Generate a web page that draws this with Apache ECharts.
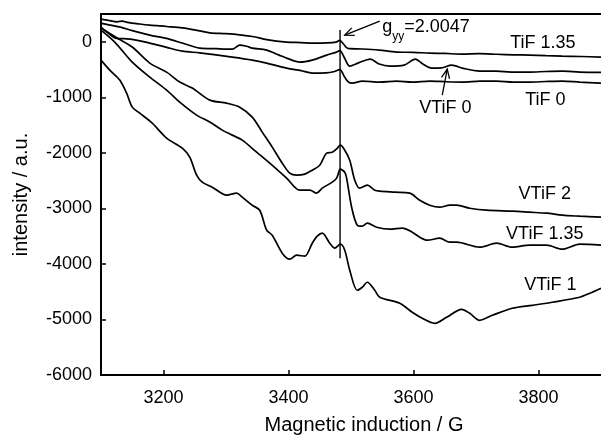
<!DOCTYPE html>
<html>
<head>
<meta charset="utf-8">
<script src="https://cdn.jsdelivr.net/npm/echarts@6/dist/echarts.min.js"></script>
<style>
  html, body { margin: 0; padding: 0; background: #fff; }
  #chart { width: 601px; height: 435px; }
</style>
</head>
<body>
<div id="chart"></div>
<script>
// tick labels
const xTicks = [3200, 3400, 3600, 3800];
const yTicks = [-6000, -5000, -4000, -3000, -2000, -1000, 0];

// spectra, [field G, intensity]
const tif135 = [[3100,409],[3112,385],[3126,360],[3134,372],[3142,350],[3162,320],[3178,300],[3205,275],[3230,250],[3258,195],[3274,160],[3300,145],[3322,125],[3345,90],[3365,40],[3397,-5],[3420,-15],[3440,-25],[3462,-20],[3476,-5],[3482,25],[3488,-40],[3495,-120],[3518,-130],[3545,-150],[3573,-185],[3600,-190],[3626,-205],[3650,-210],[3678,-222],[3705,-215],[3733,-225],[3760,-235],[3786,-240],[3812,-250],[3838,-258],[3868,-265],[3900,-276]];
const vtif0 = [[3100,337],[3115,300],[3131,265],[3150,200],[3178,121],[3205,60],[3230,-23],[3258,-114],[3285,-125],[3310,-132],[3322,-59],[3333,-80],[3342,-114],[3365,-150],[3385,-240],[3397,-294],[3418,-366],[3438,-330],[3461,-240],[3476,-190],[3482,-160],[3490,-300],[3498,-438],[3512,-380],[3531,-312],[3545,-400],[3562,-438],[3585,-420],[3603,-312],[3615,-400],[3629,-474],[3645,-470],[3661,-420],[3680,-480],[3706,-528],[3733,-530],[3760,-545],[3786,-546],[3812,-535],[3838,-530],[3866,-546],[3900,-550]];
const tif0 = [[3100,265],[3112,150],[3123,67],[3147,49],[3178,-23],[3205,-100],[3230,-168],[3258,-200],[3310,-276],[3342,-330],[3365,-384],[3397,-474],[3420,-520],[3438,-564],[3460,-560],[3472,-540],[3482,-500],[3490,-640],[3496,-726],[3502,-744],[3518,-708],[3546,-726],[3573,-708],[3598,-726],[3626,-708],[3653,-720],[3678,-726],[3706,-710],[3733,-708],[3760,-726],[3786,-726],[3812,-715],[3838,-708],[3866,-726],[3900,-744]];
const vtif2 = [[3100,247],[3126,67],[3150,-95],[3178,-384],[3205,-546],[3226,-726],[3246,-834],[3274,-1051],[3301,-1105],[3322,-1177],[3342,-1357],[3358,-1627],[3374,-1897],[3390,-2186],[3402,-2366],[3413,-2402],[3426,-2384],[3438,-2312],[3450,-2222],[3461,-2006],[3470,-1990],[3477,-1930],[3483,-1861],[3490,-1952],[3498,-2132],[3506,-2492],[3514,-2636],[3526,-2582],[3538,-2672],[3546,-2690],[3570,-2708],[3594,-2726],[3610,-2853],[3626,-2943],[3642,-2979],[3658,-2943],[3669,-2943],[3690,-2997],[3717,-3033],[3758,-3051],[3786,-3069],[3813,-3087],[3838,-3123],[3866,-3141],[3900,-3159]];
const vtif135 = [[3100,211],[3122,-5],[3150,-366],[3178,-636],[3205,-870],[3226,-1087],[3253,-1321],[3274,-1445],[3294,-1591],[3310,-1681],[3326,-1771],[3349,-1988],[3370,-2186],[3397,-2456],[3418,-2672],[3434,-2672],[3445,-2726],[3454,-2636],[3470,-2528],[3477,-2456],[3483,-2294],[3490,-2348],[3493,-2456],[3501,-2979],[3510,-3303],[3518,-3321],[3526,-3267],[3541,-3339],[3562,-3375],[3582,-3357],[3598,-3429],[3610,-3519],[3622,-3573],[3642,-3537],[3658,-3609],[3669,-3609],[3706,-3699],[3733,-3627],[3758,-3699],[3786,-3663],[3813,-3663],[3838,-3735],[3866,-3645],[3900,-3663]];
const vtif1 = [[3100,-330],[3114,-510],[3130,-690],[3141,-926],[3150,-1177],[3162,-1285],[3182,-1465],[3205,-1735],[3230,-1916],[3242,-2078],[3253,-2402],[3262,-2528],[3278,-2618],[3301,-2762],[3317,-2726],[3326,-2798],[3342,-2943],[3354,-3033],[3365,-3393],[3374,-3483],[3390,-3807],[3402,-3915],[3413,-3843],[3426,-3861],[3438,-3627],[3446,-3501],[3454,-3447],[3466,-3627],[3474,-3717],[3483,-3645],[3490,-3753],[3498,-4114],[3510,-4474],[3518,-4420],[3526,-4330],[3538,-4474],[3546,-4600],[3578,-4709],[3598,-4871],[3614,-4979],[3634,-5069],[3653,-4961],[3677,-4817],[3690,-4889],[3706,-5015],[3726,-4925],[3758,-4799],[3790,-4745],[3822,-4690],[3866,-4600],[3882,-4528],[3900,-4438]];

// g_yy marker line
const markerLine = [[3482.5, 212], [3482.5, -3900]];

// curve labels
const labelTexts = ['TiF 1.35', 'VTiF 0', 'TiF 0', 'VTiF 2', 'VTiF 1.35', 'VTiF 1'];
const labelX = [3807, 3651, 3811, 3810, 3810, 3819];
const labelY = [-23, -1197, -1042, -2744, -3465, -4384];

// arrows [tail, tip]
const arrowG = [[3546, 373], [3490, 121]];
const arrowV0 = [[3646, -962], [3654, -492]];
const gLabelPos = [3550, 265];

const FONT = 'Liberation Sans, Arial, sans-serif';
const chart = echarts.init(document.getElementById('chart'));

function curve(data) {
  return {
    type: 'line', data: data, showSymbol: false, smooth: 0.3,
    lineStyle: { color: '#000', width: 1.7 }, silent: true, z: 3
  };
}
function plain(v) { return String(v); }

const option = {
  animation: false,
  backgroundColor: '#fff',
  grid: { left: 101, right: 0, top: 14, bottom: 60, containLabel: false, outerBoundsMode: 'none' },
  xAxis: [{
    type: 'value', min: 3100, max: 3900, position: 'bottom',
    name: 'Magnetic induction / G', nameLocation: 'middle', nameGap: 40,
    nameTextStyle: { fontFamily: FONT, fontSize: 20, color: '#000', padding: [0, 0, 0, 26] },
    axisLine: { onZero: false, lineStyle: { color: '#000', width: 2 } },
    axisTick: { inside: true, length: 5, customValues: xTicks, lineStyle: { color: '#000', width: 1.5 } },
    axisLabel: { customValues: xTicks, margin: 14, formatter: plain, fontFamily: FONT, fontSize: 18, color: '#000' },
    splitLine: { show: false }
  }, {
    type: 'value', min: 3100, max: 3900, position: 'top',
    axisLine: { show: true, onZero: false, lineStyle: { color: '#000', width: 2 } },
    axisTick: { show: false }, axisLabel: { show: false }, splitLine: { show: false }
  }],
  yAxis: {
    type: 'value', min: -6000, max: 500,
    name: 'intensity / a.u.', nameLocation: 'middle', nameGap: 70,
    nameTextStyle: { fontFamily: FONT, fontSize: 20, color: '#000' },
    axisLine: { show: true, onZero: false, lineStyle: { color: '#000', width: 2 } },
    axisTick: { show: true, inside: true, length: 5, customValues: yTicks, lineStyle: { color: '#000', width: 1.5 } },
    axisLabel: { customValues: yTicks, margin: 9, formatter: plain, fontFamily: FONT, fontSize: 18, color: '#000' },
    splitLine: { show: false }
  },
  series: [
    curve(tif135), curve(vtif0), curve(tif0), curve(vtif2), curve(vtif135), curve(vtif1),
    { type: 'line', data: markerLine, showSymbol: false, lineStyle: { color: '#000', width: 1.4 }, silent: true }
  ]
};
chart.setOption(option);

function px(p) { return chart.convertToPixel({ gridIndex: 0 }, p); }

function arrow(pair) {
  const a = px(pair[0]), b = px(pair[1]);
  const ang = Math.atan2(b[1] - a[1], b[0] - a[0]);
  const len = 10, spread = 0.42;
  const h1 = [b[0] - len * Math.cos(ang - spread), b[1] - len * Math.sin(ang - spread)];
  const h2 = [b[0] - len * Math.cos(ang + spread), b[1] - len * Math.sin(ang + spread)];
  return [
    { type: 'polyline', shape: { points: [a, b] }, style: { stroke: '#000', lineWidth: 1.3, fill: null } },
    { type: 'polyline', shape: { points: [h1, b, h2] }, style: { stroke: '#000', lineWidth: 1.3, fill: null } }
  ];
}

const graphics = [];
labelTexts.forEach(function (t, i) {
  const p = px([labelX[i], labelY[i]]);
  graphics.push({
    type: 'text', x: p[0], y: p[1],
    style: { text: t, font: '18px ' + FONT, fill: '#000', align: 'center', verticalAlign: 'middle' }
  });
});
const gp = px(gLabelPos);
graphics.push({
  type: 'text', x: gp[0], y: gp[1],
  style: {
    text: '{a|g}{b|yy}{a|=2.0047}', align: 'left', verticalAlign: 'middle',
    rich: {
      a: { fontFamily: FONT, fontSize: 18, fill: '#000', lineHeight: 20 },
      b: { fontFamily: FONT, fontSize: 12, fill: '#000', lineHeight: 12, verticalAlign: 'bottom', padding: [0, 0, -6, 0] }
    }
  }
});
arrow(arrowG).forEach(function (g) { graphics.push(g); });
arrow(arrowV0).forEach(function (g) { graphics.push(g); });
chart.setOption({ graphic: graphics });
</script>
</body>
</html>
